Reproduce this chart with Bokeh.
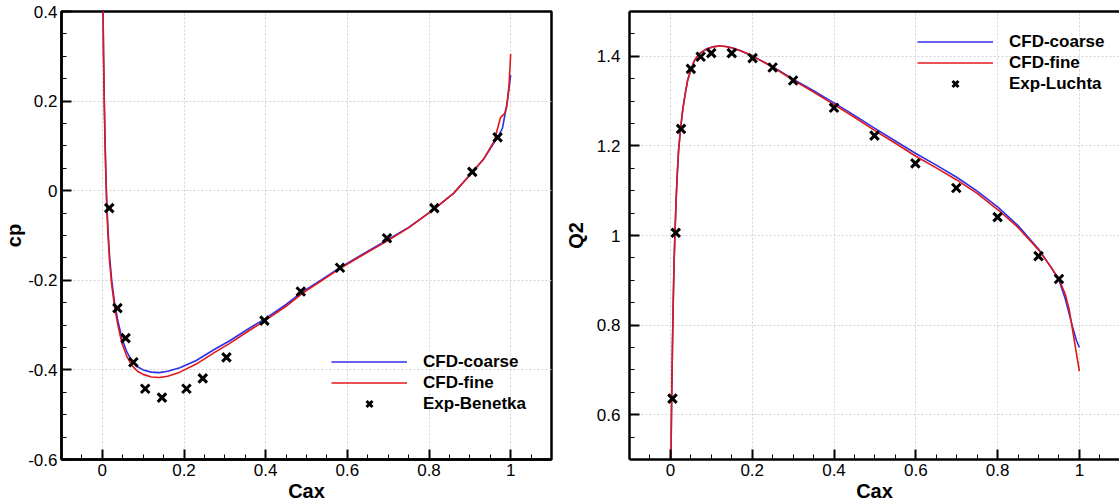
from bokeh.plotting import figure
from bokeh.layouts import row
from bokeh.models import (FixedTicker, CustomJSTickFormatter, Legend, LegendItem,
                          LinearAxis, Range1d)
from bokeh.embed import file_html
from bokeh.resources import INLINE

# ---------------- data: left panel (cp) ----------------
cp_fine_x = [0.0015, 0.003, 0.005, 0.007, 0.009, 0.011, 0.014, 0.018, 0.023, 0.030, 0.038, 0.048,
             0.060, 0.072, 0.086, 0.10, 0.12, 0.14, 0.16, 0.19, 0.23, 0.275, 0.31, 0.36, 0.40,
             0.45, 0.49, 0.54, 0.58, 0.62, 0.70, 0.75, 0.81, 0.86, 0.905, 0.935, 0.96, 0.975,
             0.985, 0.99, 0.996, 1.0]
cp_fine_y = [0.42, 0.30, 0.18, 0.09, 0.02, -0.04, -0.10, -0.16, -0.21, -0.26, -0.30, -0.34,
             -0.37, -0.39, -0.403, -0.41, -0.416, -0.417, -0.414, -0.405, -0.387, -0.361, -0.342,
             -0.312, -0.289, -0.258, -0.229, -0.199, -0.175, -0.153, -0.111, -0.083, -0.043,
             -0.006, 0.040, 0.072, 0.112, 0.163, 0.172, 0.185, 0.235, 0.305]
cp_coarse_x = [0.0015, 0.003, 0.005, 0.007, 0.009, 0.011, 0.014, 0.018, 0.023, 0.030, 0.038, 0.048,
               0.060, 0.072, 0.086, 0.10, 0.12, 0.14, 0.16, 0.19, 0.23, 0.275, 0.31, 0.36, 0.40,
               0.45, 0.49, 0.54, 0.58, 0.62, 0.70, 0.75, 0.81, 0.86, 0.905, 0.935, 0.96, 0.972,
               0.98, 0.986, 0.992, 1.0]
cp_coarse_y = [0.42, 0.30, 0.19, 0.10, 0.03, -0.03, -0.09, -0.15, -0.20, -0.25, -0.29, -0.33,
               -0.36, -0.38, -0.393, -0.40, -0.405, -0.406, -0.403, -0.395, -0.379, -0.354, -0.336,
               -0.307, -0.285, -0.254, -0.226, -0.197, -0.173, -0.151, -0.109, -0.082, -0.043,
               -0.006, 0.040, 0.072, 0.108, 0.125, 0.14, 0.17, 0.20, 0.258]
cp_exp_x = [0.017, 0.037, 0.057, 0.076, 0.105, 0.146, 0.206, 0.246, 0.304, 0.397, 0.486, 0.582,
            0.697, 0.813, 0.906, 0.968]
cp_exp_y = [-0.039, -0.262, -0.329, -0.383, -0.442, -0.462, -0.442, -0.419, -0.372, -0.290,
            -0.225, -0.172, -0.106, -0.039, 0.042, 0.119]

# ---------------- data: right panel (Q2) ----------------
q2_fine_x = [0.001, 0.002, 0.003, 0.005, 0.007, 0.009, 0.011, 0.014, 0.017, 0.020, 0.025, 0.030,
             0.036, 0.042, 0.050, 0.059, 0.068, 0.077, 0.09, 0.103, 0.12, 0.135, 0.15, 0.17,
             0.20, 0.25, 0.30, 0.35, 0.40, 0.45, 0.50, 0.55, 0.60, 0.65, 0.70, 0.75, 0.80,
             0.85, 0.90, 0.93, 0.95, 0.965, 0.975, 0.985, 0.993, 1.0]
q2_fine_y = [0.45, 0.55, 0.63, 0.75, 0.855, 0.94, 1.0, 1.08, 1.14, 1.19, 1.24, 1.28, 1.315, 1.346,
             1.37, 1.391, 1.403, 1.41, 1.417, 1.421, 1.423, 1.422, 1.419, 1.413, 1.401, 1.376,
             1.347, 1.32, 1.292, 1.264, 1.234, 1.206, 1.177, 1.151, 1.124, 1.094, 1.058, 1.018,
             0.968, 0.93, 0.903, 0.87, 0.835, 0.78, 0.735, 0.697]
q2_coarse_x = [0.001, 0.002, 0.003, 0.005, 0.007, 0.009, 0.011, 0.014, 0.017, 0.020, 0.025, 0.030,
               0.036, 0.042, 0.050, 0.059, 0.068, 0.077, 0.09, 0.103, 0.12, 0.135, 0.15, 0.17,
               0.20, 0.25, 0.30, 0.35, 0.40, 0.45, 0.50, 0.55, 0.60, 0.65, 0.70, 0.75, 0.80,
               0.85, 0.90, 0.93, 0.95, 0.965, 0.975, 0.985, 0.993, 1.0]
q2_coarse_y = [0.45, 0.55, 0.63, 0.75, 0.855, 0.94, 1.0, 1.08, 1.14, 1.19, 1.24, 1.28, 1.315, 1.346,
               1.37, 1.391, 1.403, 1.41, 1.417, 1.421, 1.423, 1.422, 1.419, 1.413, 1.401, 1.377,
               1.349, 1.323, 1.296, 1.268, 1.239, 1.211, 1.183, 1.157, 1.130, 1.099, 1.064, 1.022,
               0.970, 0.93, 0.900, 0.86, 0.825, 0.79, 0.765, 0.75]
q2_exp_x = [0.005, 0.013, 0.026, 0.050, 0.074, 0.100, 0.150, 0.201, 0.250, 0.300, 0.400, 0.499,
            0.599, 0.699, 0.800, 0.900, 0.950]
q2_exp_y = [0.636, 1.006, 1.238, 1.372, 1.399, 1.407, 1.407, 1.396, 1.375, 1.346, 1.285, 1.223,
            1.161, 1.106, 1.041, 0.954, 0.903]

# ---------------- ticks ----------------
x_major = [0, 0.2, 0.4, 0.6, 0.8, 1.0]
x_minor = [-0.05, 0.05, 0.1, 0.15, 0.25, 0.3, 0.35, 0.45, 0.5, 0.55, 0.65, 0.7, 0.75, 0.85, 0.9,
           0.95, 1.05]
cp_major = [-0.6, -0.4, -0.2, 0, 0.2, 0.4]
cp_minor = [-0.55, -0.5, -0.45, -0.35, -0.3, -0.25, -0.15, -0.1, -0.05, 0.05, 0.1, 0.15, 0.25,
            0.3, 0.35]
q2_major = [0.6, 0.8, 1.0, 1.2, 1.4]
q2_minor = [0.5, 0.55, 0.65, 0.7, 0.75, 0.85, 0.9, 0.95, 1.05, 1.1, 1.15, 1.25, 1.3, 1.35, 1.45, 1.5]

FONT = "Liberation Sans"
BLUE = "#2f2fe8"
RED = "#e01818"
H = 504

fmt = CustomJSTickFormatter(code="return Number(tick.toFixed(2)).toString();")


def style(p, xmaj, xmin, ymaj, ymin, xlabel, ylabel, y_standoff, y_label_standoff):
    p.xaxis.ticker = FixedTicker(ticks=xmaj, minor_ticks=xmin)
    p.yaxis.ticker = FixedTicker(ticks=ymaj, minor_ticks=ymin)
    for ax in (p.xaxis[0], p.yaxis[0]):
        ax.formatter = fmt
        ax.axis_line_color = "black"
        ax.axis_line_width = 2.5
        ax.major_tick_in = 10
        ax.major_tick_out = 0
        ax.minor_tick_in = 5
        ax.minor_tick_out = 0
        ax.major_tick_line_width = 2
        ax.minor_tick_line_width = 1
        ax.major_tick_line_color = "black"
        ax.minor_tick_line_color = "black"
        ax.major_label_text_font = FONT
        ax.major_label_text_font_size = "17px"
        ax.major_label_text_color = "black"
        ax.axis_label_text_font = FONT
        ax.axis_label_text_font_size = "20px"
        ax.axis_label_text_font_style = "bold"
        ax.axis_label_text_color = "black"
    p.xaxis[0].major_label_standoff = 4
    p.xaxis[0].axis_label_standoff = 1
    p.yaxis[0].major_label_standoff = y_standoff
    p.yaxis[0].axis_label_standoff = y_label_standoff
    p.xaxis.axis_label = xlabel
    p.yaxis.axis_label = ylabel
    p.grid.grid_line_color = "#d2d2d2"
    p.grid.grid_line_dash = "2 2"
    p.grid.grid_line_width = 1
    p.background_fill_color = "white"
    p.border_fill_color = "white"


def add_legend(p, r_coarse, r_fine, r_exp, exp_label, loc):
    leg = Legend(items=[LegendItem(label="CFD-coarse", renderers=[r_coarse]),
                        LegendItem(label="CFD-fine", renderers=[r_fine]),
                        LegendItem(label=exp_label, renderers=[r_exp])],
                 location=loc)
    leg.border_line_color = None
    leg.background_fill_alpha = 0
    leg.label_text_font = FONT
    leg.label_text_font_style = "bold"
    leg.label_text_font_size = "17px"
    leg.label_text_color = "black"
    leg.glyph_width = 76
    leg.glyph_height = 21
    leg.label_height = 21
    leg.label_standoff = 16
    leg.spacing = 0
    leg.padding = 0
    leg.margin = 0
    p.add_layout(leg)


# ---------------- left figure ----------------
p1 = figure(width=560, height=H, x_range=Range1d(-0.1, 1.1), y_range=Range1d(-0.6, 0.4),
            output_backend="svg", toolbar_location=None,
            min_border_left=60, min_border_right=9, min_border_top=11, min_border_bottom=45)
style(p1, x_major, x_minor, cp_major, cp_minor, "Cax", "cp", 4, 0)
p1.outline_line_color = "black"
p1.outline_line_width = 2.5
p1.outline_line_alpha = 1
rc1 = p1.line(cp_coarse_x, cp_coarse_y, line_color=BLUE, line_width=1.6)
rf1 = p1.line(cp_fine_x, cp_fine_y, line_color=RED, line_width=1.6)
re1 = p1.scatter(cp_exp_x, cp_exp_y, marker="x", size=12, line_color="black", line_width=3)
add_legend(p1, rc1, rf1, re1, "Exp-Benetka", (270, 45))

# ---------------- right figure ----------------
p2 = figure(width=559, height=H, x_range=Range1d(-0.1, 1.098), y_range=Range1d(0.5, 1.5),
            output_backend="svg", toolbar_location=None,
            min_border_left=69, min_border_right=0, min_border_top=10, min_border_bottom=45)
style(p2, x_major, x_minor, q2_major, q2_minor, "Cax", "Q2", 9, 7)
p2.outline_line_color = None
top_ax = LinearAxis(ticker=FixedTicker(ticks=[]), major_tick_line_color=None,
                    minor_tick_line_color=None, major_label_text_font_size="0px",
                    axis_line_color="black", axis_line_width=2.5, major_label_standoff=0)
p2.add_layout(top_ax, "above")
rc2 = p2.line(q2_coarse_x, q2_coarse_y, line_color=BLUE, line_width=1.6)
rf2 = p2.line(q2_fine_x, q2_fine_y, line_color=RED, line_width=1.6)
re2 = p2.scatter(q2_exp_x, q2_exp_y, marker="x", size=12, line_color="black", line_width=3)
add_legend(p2, rc2, rf2, re2, "Exp-Luchta", (288, 365))

layout = row(p1, p2, spacing=0)
open("out.html", "w").write(file_html(layout, INLINE))
